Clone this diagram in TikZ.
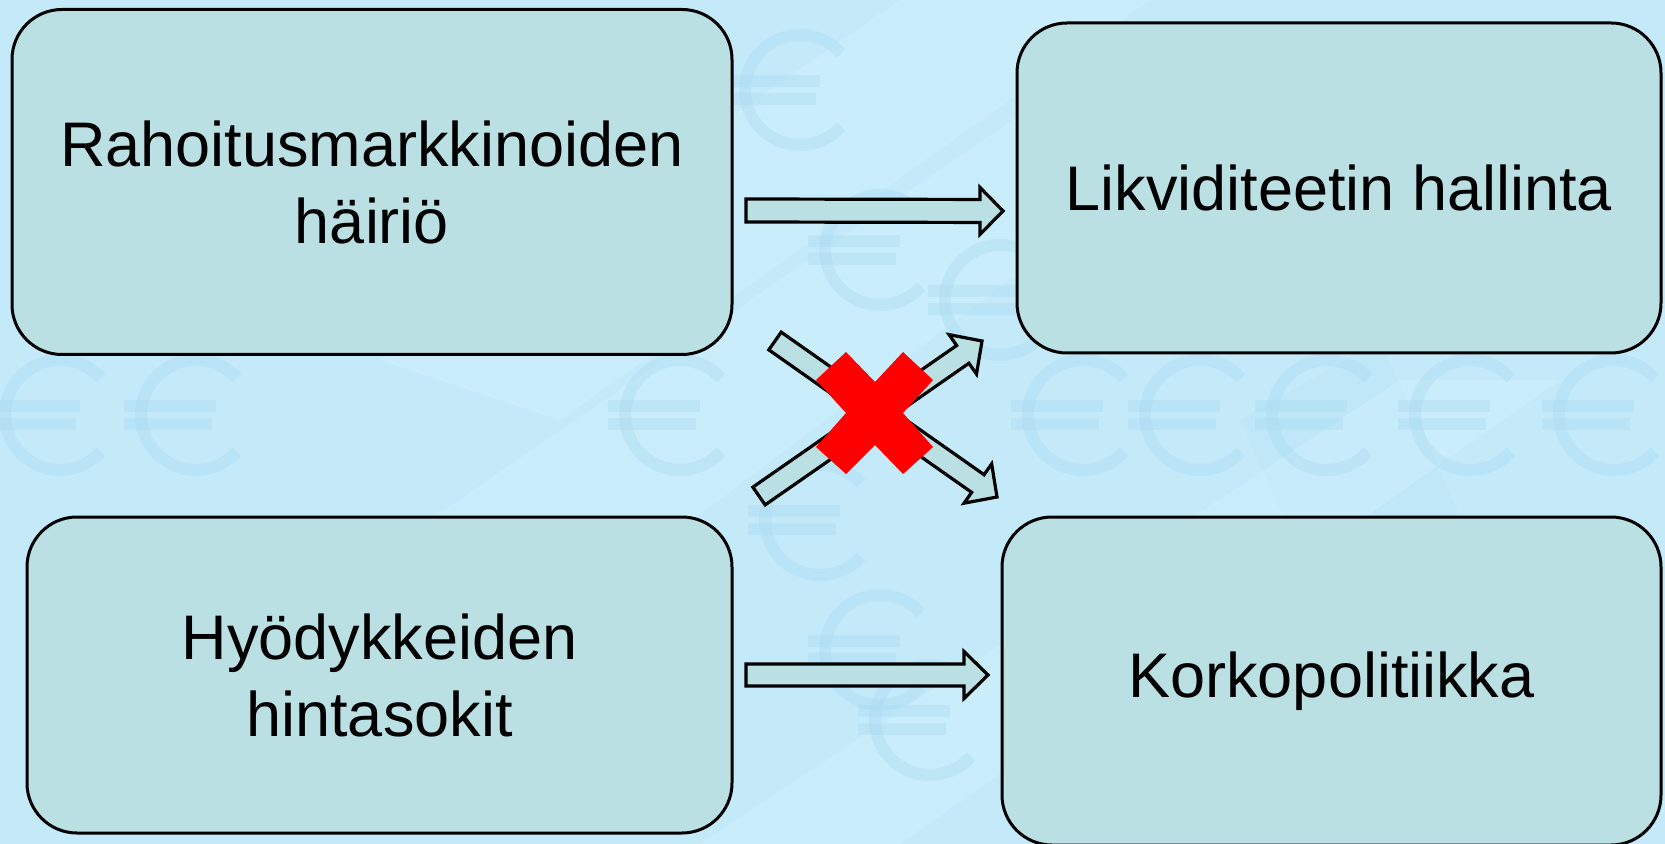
\documentclass[tikz,border=0pt]{standalone}
\usepackage{fontspec}
\setmainfont{Liberation Sans}
\usetikzlibrary{calc}
\definecolor{bgblue}{HTML}{C4EAFA}
\definecolor{bglight}{HTML}{CFF0FD}
\definecolor{bgdark}{HTML}{B6E2F6}
\definecolor{eurocol}{HTML}{ADDCF2}
\definecolor{boxfill}{HTML}{BAE0E3}
\definecolor{crossred}{HTML}{FF0000}
\tikzset{
  infobox/.style={draw=black, line width=1.5pt, fill=boxfill, rounded corners=25pt,
    align=center, font=\fontsize{31.5}{38.5}\selectfont, inner sep=0pt},
  blockarrow/.style={draw=black, line width=1.6pt, fill=boxfill, line join=miter},
  eurostroke/.style={draw=eurocol, line width=6pt, opacity=0.45},
  euro/.pic={
    \draw[eurostroke] (42:55) arc (42:318:55);
    \draw[eurostroke] (-72,-9) -- (20,-9);
    \draw[eurostroke] (-72,9) -- (16,9);
  }
}
\newcommand\fatarrow[5]{%
  \coordinate (fa-h) at ($(#2)!#5!(#1)$);
  \draw[blockarrow] ($(#1)!#3!90:(#2)$) -- ($(fa-h)!#3!-90:(#1)$) -- ($(fa-h)!#4!-90:(#1)$)
    -- (#2) -- ($(fa-h)!#4!90:(#1)$) -- ($(fa-h)!#3!90:(#1)$) -- ($(#1)!#3!-90:(#2)$) -- cycle;
}
\begin{document}
\begin{tikzpicture}[x=0.5pt, y=-0.5pt]
\useasboundingbox (0,0) rectangle (1665,844);
% background
\fill[bgblue] (0,0) rectangle (1665,844);
\fill[bglight, opacity=0.6] (380,360) -- (900,0) -- (1150,0) -- (560,420) -- cycle;
\fill[bglight, opacity=0.6] (430,520) -- (1100,60) -- (1300,60) -- (640,560) -- cycle;
\fill[bgdark, opacity=0.35] (1240,420) -- (1380,340) -- (1480,560) -- (1330,620) -- cycle;
\fill[bglight, opacity=0.5] (700,844) -- (1400,380) -- (1560,380) -- (900,844) -- cycle;
% euro watermarks
\foreach \ex/\ey in {60/415, 196/415, 680/415, 1083/415, 1200/415, 1327/415, 1470/415, 1614/415,
  800/90, 880/250, 820/520, 880/650, 1000/300, 930/720}
  \pic at (\ex,\ey) {euro};
% boxes
\node[infobox, minimum width=360pt, minimum height=172.5pt] (b1) at (372,182)
  {Rahoitusmarkkinoiden\\häiriö};
\node[infobox, minimum width=322pt, minimum height=165pt] (b2) at (1339,188)
  {Likviditeetin hallinta};
\node[infobox, minimum width=352.5pt, minimum height=158pt] (b3) at (379.5,675)
  {Hyödykkeiden\\hintasokit};
\node[infobox, minimum width=329.5pt, minimum height=164pt] (b4) at (1331.5,681)
  {Korkopolitiikka};
% arrow end points
\coordinate (a1t) at (746,210.5);
\coordinate (a1h) at (1003,211);
\coordinate (a2t) at (746,675);
\coordinate (a2h) at (988,675);
\coordinate (a3t) at (759,496);
\coordinate (a3h) at (982,341);
\coordinate (a4t) at (775,341);
\coordinate (a4h) at (997,497);
\fatarrow{a1t}{a1h}{5.75pt}{11.75pt}{11.5pt}
\fatarrow{a2t}{a2h}{5.5pt}{11.75pt}{12pt}
\fatarrow{a3t}{a3h}{5.4pt}{12pt}{11.7pt}
\fatarrow{a4t}{a4h}{5.4pt}{12pt}{11.7pt}
% red cross
\fill[crossred] (816,380) -- (846,352) -- (875,382) -- (903,352) -- (933,380) -- (903,413)
  -- (933,447) -- (903,474) -- (875,445) -- (846,474) -- (816,447) -- (846,413) -- cycle;
\end{tikzpicture}
\end{document}
